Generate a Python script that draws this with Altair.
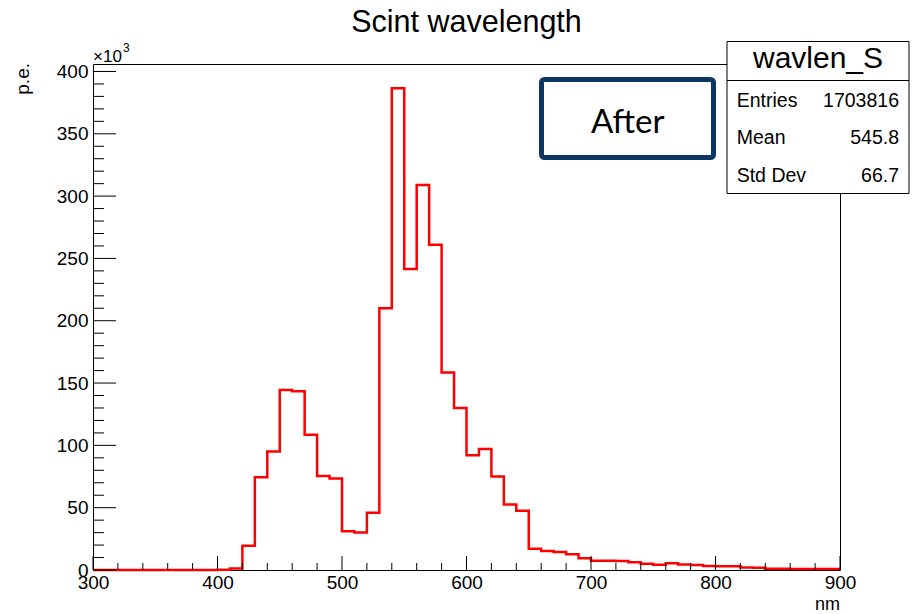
import altair as alt
import pandas as pd

# ---- data ----
bin_low = list(range(300, 900, 10))
counts_k = [
    0, 0, 0, 0, 0, 0, 0, 0, 0, 0,          # 300-390
    0.2, 1.2, 19.5, 74.5, 95, 144.5, 143.5, 108.5, 75.5, 73.5,   # 400-490
    31, 30, 46, 210, 386.5, 241.5, 309, 261, 158.5, 130,          # 500-590
    92, 97, 75, 52.5, 47.5, 17, 15.2, 14.5, 12.6, 9.4,            # 600-690
    7.5, 7.5, 7.3, 6.2, 5.0, 4.2, 5.4, 4.4, 4.0, 3.2,             # 700-790
    3.1, 3.0, 2.0, 1.8, 1.0, 1.0, 0.9, 0.9, 0.8, 0.8,             # 800-890
]
x_major = [300, 400, 500, 600, 700, 800, 900]
x_minor = [v for v in range(300, 901, 20) if v % 100 != 0]
y_major = [0, 50, 100, 150, 200, 250, 300, 350, 400]
y_minor = [v for v in range(0, 401, 10) if v % 50 != 0]

title_text = "Scint wavelength"
stat_name = "wavlen_S"
stat_labels = ["Entries", "Mean", "Std Dev"]
stat_values = ["1703816", "545.8", "66.7"]
note_text = "After"

hist_df = pd.DataFrame({"nm": bin_low + [900], "pe": counts_k + [counts_k[-1]]})

W, H = 747, 506
FONT = "Liberation Sans"
xs = alt.Scale(domain=[300, 900], nice=False, zero=False)
ys = alt.Scale(domain=[0, 406], nice=False)
x_axis = alt.Axis(values=x_major, title=None, ticks=False, tickSize=0, domain=False, grid=False,
                  labelFont=FONT, labelFontSize=19, labelColor="black", labelPadding=3, format="d",
                  labelFlush=False, labelOverlap=False)
y_axis = alt.Axis(values=y_major, title=None, ticks=False, tickSize=0, domain=False, grid=False,
                  labelFont=FONT, labelFontSize=19, labelColor="black", labelPadding=5, format="d",
                  labelFlush=False, labelOverlap=False)

hist = alt.Chart(hist_df).mark_line(
    interpolate="step-after", color="#ff0000", strokeWidth=2.5, strokeJoin="miter"
).encode(
    x=alt.X("nm:Q", scale=xs, axis=x_axis),
    y=alt.Y("pe:Q", scale=ys, axis=y_axis),
)


def xticks(vals, length):
    return alt.Chart(pd.DataFrame({"v": vals})).mark_rule(color="black", strokeWidth=1).encode(
        x=alt.X("v:Q", scale=xs, axis=x_axis), y=alt.value(H), y2=alt.value(H - length))


def yticks(vals, length):
    return alt.Chart(pd.DataFrame({"v": vals})).mark_rule(color="black", strokeWidth=1).encode(
        y=alt.Y("v:Q", scale=ys, axis=y_axis), x=alt.value(0), x2=alt.value(length))


def text(t, x, y, size, align="left", font=FONT, angle=0, baseline="alphabetic"):
    return alt.Chart(pd.DataFrame({"t": [t]})).mark_text(
        align=align, baseline=baseline, font=font, fontSize=size, color="black", angle=angle
    ).encode(text="t:N", x=alt.value(x), y=alt.value(y))


BOX_L, BOX_R = 634, 816
stats_box = alt.Chart(pd.DataFrame({"a": [0]})).mark_rect(
    fill="white", stroke="black", strokeWidth=1
).encode(x=alt.value(BOX_L), x2=alt.value(BOX_R), y=alt.value(-22.5), y2=alt.value(129.5))
stats_sep = alt.Chart(pd.DataFrame({"a": [0]})).mark_rule(color="black", strokeWidth=1).encode(
    x=alt.value(BOX_L), x2=alt.value(BOX_R), y=alt.value(16.5))

after_box = alt.Chart(pd.DataFrame({"a": [0]})).mark_rect(
    fill="white", stroke="#0b3665", strokeWidth=5, cornerRadius=3
).encode(x=alt.value(448.5), x2=alt.value(620.5), y=alt.value(15.5), y2=alt.value(93.5))

layers = [
    hist,
    xticks(x_major, 14), xticks(x_minor, 7),
    yticks(y_major, 23), yticks(y_minor, 11),
    stats_box, stats_sep, after_box,
    text(note_text, 534.7, 69.3, 33, align="center", font="Lato"),
    text(title_text, W / 2, -32, 30.5, align="center"),
    text(stat_name, (BOX_L + BOX_R) / 2, 4.3, 30, align="center"),
]
for i, (lab, val) in enumerate(zip(stat_labels, stat_values)):
    yb = [42.7, 80.0, 117.7][i]
    layers.append(text(lab, 643.7, yb, 19.5, align="left"))
    layers.append(text(val, 806, yb, 19.5, align="right"))

layers += [
    text("×10", 0, -2.3, 17, align="left"),
    text("3", 30, -12, 12, align="left"),
    text("p.e.", -64, -1, 19, align="right", angle=270),
    text("nm", W, 546, 18, align="right"),
]

chart = alt.layer(*layers).properties(
    width=W, height=H,
    padding={"left": 85, "top": 56, "right": 70, "bottom": 44},
    autosize=alt.AutoSizeParams(type="none"),
    background="white",
).configure_view(stroke="black", strokeWidth=1)

chart.save("out.html", embed_options={"renderer": "svg", "actions": False})
